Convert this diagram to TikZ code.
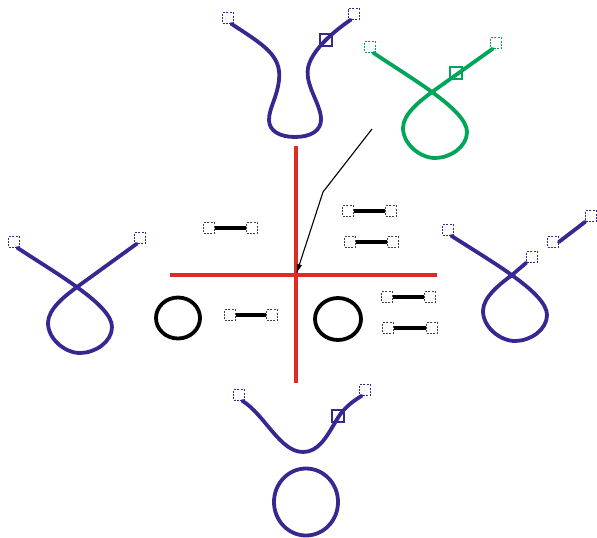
\documentclass[tikz,border=0pt]{standalone}
\usepackage{tikz}
\usetikzlibrary{arrows.meta}
\definecolor{loopc}{RGB}{55,40,145}
\definecolor{knotc}{RGB}{0,166,88}
\definecolor{axisc}{RGB}{222,44,34}

\begin{document}
\begin{tikzpicture}[x=1pt,y=-1pt,>=Latex,
  hnd/.style={draw,dash pattern=on 2pt off 1.4pt,line width=.6pt,minimum size=11pt,inner sep=0pt},
  grip/.style={draw,line width=1.9pt,minimum size=12pt,inner sep=0pt},
  crv/.style={line width=3.8pt,line cap=round}]
\useasboundingbox (0,0) rectangle (597,538);
% axes
\coordinate (ctr) at (296,275);
\draw[axisc,line width=3.6pt] (170,275)--(437,275);
\draw[axisc,line width=3.6pt] (296,146)--(296,383);
\coordinate (tail) at (372,129);
\coordinate (bend) at (323,192);
\draw[->,line width=1.1pt,>={Latex[length=10pt,width=5.5pt]},shorten >=1pt] (tail)--(bend)--(ctr);
% segments
\foreach \xa/\xb/\yy [count=\i] in {209/252/228,348/391/211,350/393/242,230/272/315,387/430/297,388/432/328}{
  \node[hnd,black!75] (l\i) at (\xa,\yy) {};
  \node[hnd,black!75] (r\i) at (\xb,\yy) {};
  \draw[line width=3.4pt] (l\i)--(r\i);}
\draw[line width=3.8pt] (178,318) ellipse (22 and 20.5);
\draw[line width=3.8pt] (338,319) ellipse (23 and 21);
% top curve
\node[hnd,loopc] (ua) at (228,18) {};
\node[hnd,loopc] (ub) at (354,14) {};
\node[grip,loopc] (ug) at (326,40) {};
\draw[crv,loopc] (ua.-60) .. controls (262,44) and (282,55) .. (279,80) .. controls (277,98) and (269,108) .. (269,120) .. controls (269,131) and (280,137) .. (295,137) .. controls (310,137) and (322,131) .. (321,118) .. controls (320,103) and (305,85) .. (308,68) .. controls (311,52) and (330,34) .. (ub.-120);
% green loop
\begin{scope}[shift={(432,92)}]
\node[hnd,knotc] (ga) at (-62,-45) {};
\node[hnd,knotc] (gb) at (64,-49) {};
\node[grip,knotc] (gg) at (24,-19) {};
\draw[crv,knotc] (ga.-60) .. controls (-20,-13) and (35,18) .. (35,40) .. controls (35,55) and (18,66) .. (3,66) .. controls (-12,66) and (-29,52) .. (-29,36) .. controls (-29,22) and (-12,9) .. (0,0) -- (gb.-120);
\end{scope}
% left loop
\begin{scope}[shift={(77,287)}]
\node[hnd,loopc] (la) at (-63,-45) {};
\node[hnd,loopc] (lb) at (63,-49) {};
\draw[crv,loopc] (la.-60) .. controls (-20,-13) and (35,18) .. (35,40) .. controls (35,55) and (18,66) .. (3,66) .. controls (-12,66) and (-29,52) .. (-29,36) .. controls (-29,22) and (-12,9) .. (0,0) -- (lb.-120);
\end{scope}
% right loop, cut
\begin{scope}[shift={(512,275)}]
\node[hnd,loopc] (ra) at (-64,-45) {};
\node[hnd,loopc] (rb) at (20,-18) {};
\node[hnd,loopc] (rc) at (41,-33) {};
\node[hnd,loopc] (rd) at (79,-59) {};
\draw[crv,loopc] (ra.-60) .. controls (-20,-13) and (35,18) .. (35,40) .. controls (35,55) and (18,66) .. (3,66) .. controls (-12,66) and (-29,52) .. (-29,36) .. controls (-29,22) and (-12,9) .. (0,0) -- (rb.south west);
\draw[crv,loopc] (rc.east) -- (rd.south west);
\end{scope}
% bottom curve
\node[hnd,loopc] (ba) at (239,395) {};
\node[hnd,loopc] (bb) at (365,390) {};
\node[grip,loopc] (bg) at (338,416) {};
\draw[crv,loopc] (ba.-60) .. controls (265,415) and (280,452) .. (303,452) .. controls (318,452) and (326,438) .. (336,421) .. controls (342,410) and (350,403) .. (bb.-120);
\draw[loopc,line width=3.8pt] (306,502) ellipse (32 and 33.5);
\end{tikzpicture}
\end{document}
